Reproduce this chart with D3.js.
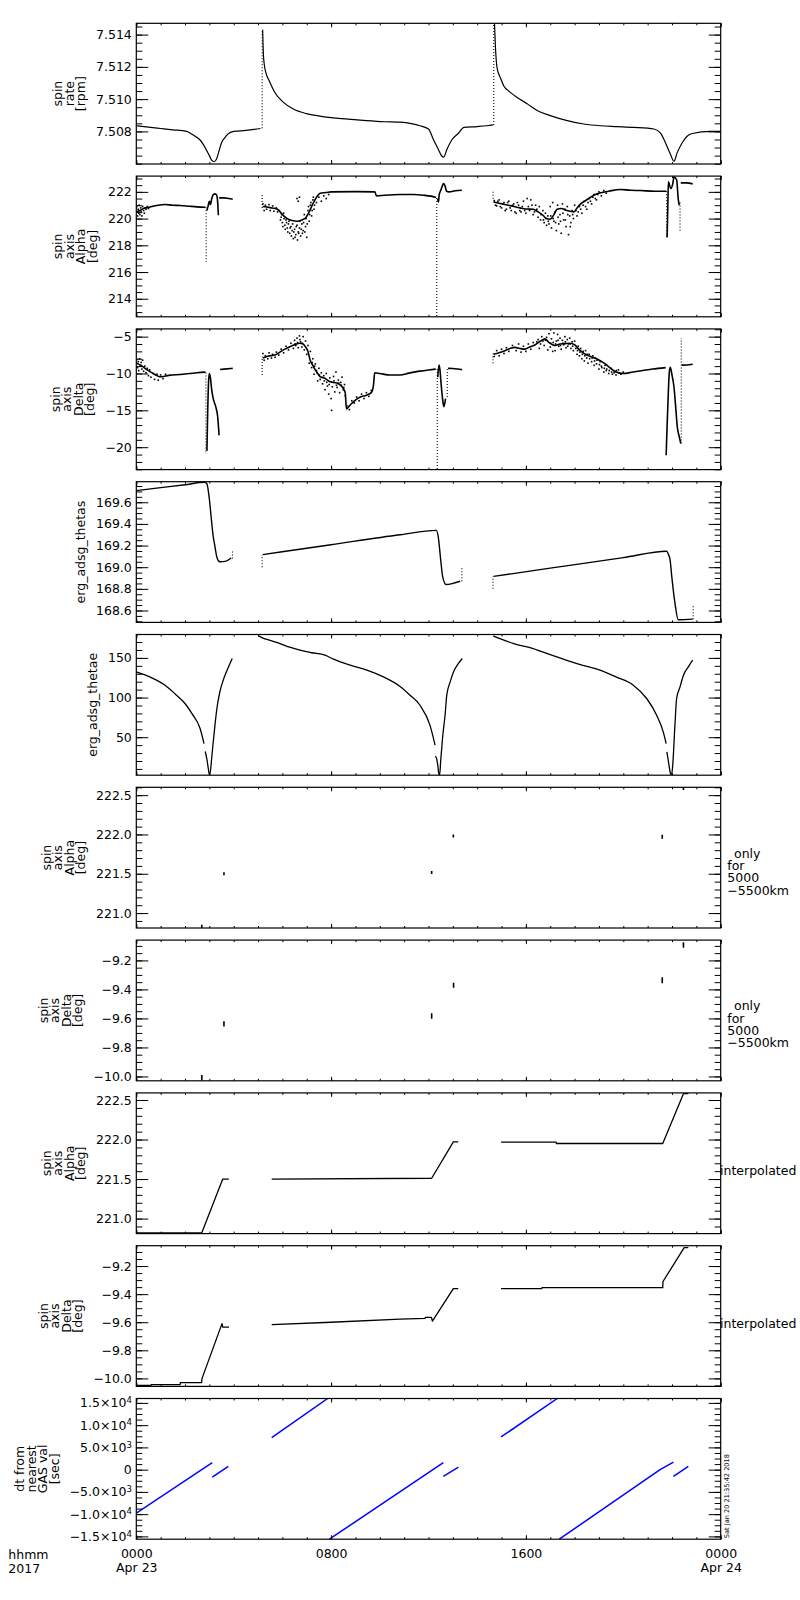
<!DOCTYPE html>
<html><head><meta charset="utf-8">
<script src="https://cdn.jsdelivr.net/npm/d3@7"></script>
<style>body{margin:0;background:#fff}svg{display:block}</style>
</head><body>
<svg id="c" width="800" height="1600"></svg>
<script>
// ---------------- DATA (time in hours from 2017-04-23 00:00) ----------------
const timeDomain = [0, 24];
const timeMajor = [0, 8, 16, 24];
const timeMinor = d3.range(0, 25);
const timeLabels = [["0000","Apr 23"],["0800"],["1600"],["0000","Apr 24"]];

// Panel 1: spin rate [rpm]
const rateDomain = [7.50598, 7.5147];
const rateTicks = [7.508, 7.510, 7.512, 7.514];
const rateSegs = [
 [[0,7.50835],[0.5,7.50826],[1.0,7.50818],[1.5,7.5081],[2.07,7.508],[2.2,7.5079],[2.4,7.50772],[2.6,7.5075],[2.75,7.5072],[2.9,7.50678],[3.0,7.5065],[3.1,7.5062],[3.2,7.50612],[3.3,7.5063],[3.4,7.5068],[3.5,7.5073],[3.63,7.5076],[3.76,7.50783],[4.0,7.508],[4.5,7.50806],[5.1,7.50818]],
 [[5.19,7.5143],[5.22,7.51277],[5.26,7.5121],[5.33,7.5116],[5.47,7.5111],[5.67,7.51046],[6.02,7.50983],[6.43,7.5094],[6.98,7.5091],[7.53,7.50895],[8.1,7.50884],[8.8,7.50875],[9.45,7.50867],[10.2,7.5086],[10.83,7.50857],[11.3,7.50848],[11.65,7.50835],[12.0,7.50815],[12.2,7.5075],[12.4,7.5069],[12.55,7.50646],[12.62,7.5064],[12.76,7.5069],[12.97,7.5075],[13.24,7.5079],[13.45,7.50825],[14.0,7.5083],[14.4,7.50835],[14.66,7.5084]],
 [[14.71,7.5147],[14.75,7.5132],[14.82,7.5119],[14.96,7.5113],[15.1,7.5108],[15.3,7.5105],[15.64,7.5101],[16.05,7.50972],[16.46,7.5093],[17.0,7.50898],[17.7,7.50867],[18.38,7.50846],[19.06,7.50835],[19.75,7.5083],[20.43,7.50825],[21.26,7.50815],[21.53,7.5079],[21.73,7.5073],[21.94,7.50657],[22.08,7.50615],[22.21,7.50667],[22.42,7.5073],[22.62,7.5077],[22.83,7.50787],[23.59,7.508],[24,7.508]]
];
const rateJumps = [[5.17,7.5082,7.5143],[14.68,7.5084,7.5147]];

// Panel 2: spin axis Alpha [deg]
const alphaDomain = [212.65, 223.18];
const alphaTicks = [214, 216, 218, 220, 222];
const alphaSegs = [
 [[0,220.5],[0.15,220.6],[0.3,220.75],[0.56,220.87],[0.9,221.0],[1.18,221.05],[1.5,221.0],[1.8,220.98],[2.2,220.92],[2.5,220.88],[2.84,220.85]],
 [[2.9,220.6],[2.95,220.95],[3.0,221.3],[3.04,221.05],[3.1,221.5],[3.16,221.8],[3.24,221.85],[3.3,221.75],[3.35,221.0],[3.37,220.25]],
 [[3.4,221.55],[3.6,221.55],[3.8,221.5],[3.96,221.45]],
 [[5.19,220.9],[5.5,220.82],[5.8,220.7],[6.0,220.3],[6.2,220.0],[6.4,219.85],[6.6,219.8],[6.8,219.9],[6.95,220.05],[7.1,220.5],[7.25,221.1],[7.4,221.6],[7.55,221.9],[7.8,221.95],[8.0,222.0],[9.0,222.02],[9.8,222.0],[9.86,221.7],[10.2,221.75],[10.83,221.8],[11.4,221.8],[11.8,221.75],[12.1,221.68],[12.31,221.58]],
 [[12.37,221.5],[12.41,221.25],[12.44,221.8],[12.5,222.1],[12.56,222.4],[12.62,222.62],[12.68,222.45],[12.74,222.05],[12.85,222.0],[13.1,222.08],[13.37,222.12]],
 [[14.67,221.25],[14.9,221.15],[15.14,221.05],[15.4,220.95],[15.76,220.8],[16.0,220.72],[16.3,220.7],[16.5,220.5],[16.7,220.25],[16.85,220.0],[17.0,219.95],[17.15,220.3],[17.28,220.7],[17.45,220.75],[17.69,220.6],[17.97,220.5],[18.1,220.8],[18.25,221.1],[18.45,221.35],[18.66,221.6],[18.85,221.8],[19.07,221.93],[19.4,222.05],[19.87,222.18],[20.3,222.12],[20.7,222.1],[21.3,222.05],[21.76,222.05]],
 [[21.8,218.6],[21.83,221.0],[21.85,222.75],[21.95,222.25],[22.03,222.6],[22.08,223.1],[22.19,222.9],[22.26,221.4],[22.3,221.0]],
 [[22.36,222.67],[22.6,222.67],[22.85,222.6]]
];
const alphaJumps = [[2.87,220.85,216.75],[5.17,220.8,221.9],[12.34,221.55,212.6],[14.65,222.0,221.4],[21.78,222.05,218.6],[22.33,221.2,219.1]];
const alphaNoise = [
 [0.02,220.9],[0.05,220.2],[0.08,220.7],[0.1,220.4],[0.12,221.0],[0.15,220.3],[0.18,220.8],[0.2,220.5],[0.23,220.2],[0.26,220.9],[0.3,220.6],[0.33,220.4],[0.36,220.8],[0.4,220.7],[0.45,220.9],[0.5,220.75],
 [5.2,221.1],[5.25,220.6],[5.3,221.0],[5.35,220.7],[5.45,221.05],[5.5,220.6],[5.6,220.95],[5.65,220.55],[5.75,220.8],[5.8,220.5],
 [5.95,220.1],[6.0,219.7],[6.05,220.4],[6.1,219.5],[6.15,219.9],[6.2,219.3],[6.25,219.6],[6.3,218.9],[6.35,219.4],[6.4,219.1],[6.45,218.5],[6.5,219.2],[6.55,218.8],[6.6,219.5],[6.62,218.4],[6.65,219.0],[6.7,219.3],[6.75,218.7],[6.8,219.6],[6.85,219.1],[6.9,220.3],[6.95,219.4],[7.0,218.6],[7.05,220.6],[7.1,219.8],[7.15,221.0],[7.2,220.2],[7.25,221.4],[7.3,220.7],[7.4,221.2],[7.5,221.6],[7.6,221.3],[7.7,221.7],[7.8,221.5],[7.9,221.8],[6.6,221.5],[6.65,221.3],[6.7,221.6],
 [5.92,219.9],[5.97,220.3],[6.02,219.4],[6.07,220.0],[6.12,219.2],[6.17,219.7],[6.22,219.0],[6.27,219.8],[6.32,219.3],[6.37,218.7],[6.42,219.6],[6.47,219.0],[6.52,218.6],[6.57,219.4],[6.67,218.9],[6.72,219.8],[6.77,219.2],[6.82,218.9],[6.87,219.7],[6.92,219.0],[6.97,220.0],[7.02,219.6],[7.07,220.9],[7.12,220.3],[7.17,221.2],[7.22,220.6],[7.27,221.6],[7.32,221.0],
 [14.7,221.35],[14.8,220.95],[14.9,221.4],[15.0,220.8],[15.1,221.2],[15.2,220.7],[15.3,221.3],[15.4,220.6],[15.5,221.1],[15.6,220.4],[15.7,221.0],[15.8,220.5],[15.9,221.3],[16.0,220.4],[16.05,221.5],[16.1,220.9],[16.2,221.4],[16.3,220.3],[16.4,221.0],[16.5,220.1],[16.55,220.9],[16.6,219.9],[16.7,220.6],[16.75,219.7],[16.8,220.4],[16.85,219.5],[16.9,220.2],[16.95,219.6],[17.0,220.9],[17.05,219.3],[17.1,221.2],[17.15,219.8],[17.2,220.5],[17.25,219.1],[17.3,221.0],[17.35,219.6],[17.4,220.3],[17.45,218.9],[17.5,221.1],[17.55,219.9],[17.6,220.7],[17.65,219.4],[17.7,220.9],[17.75,218.8],[17.8,220.2],[17.85,219.7],[17.9,220.6],[17.95,220.0],[18.0,221.0],[18.1,220.2],[18.2,220.9],[18.3,220.4],[18.4,221.3],[18.5,220.7],[18.6,221.5],[18.7,221.1],[18.8,221.8],[18.9,221.4],[19.0,222.0],[19.1,221.7],[19.2,222.1],[19.3,221.9],
 [14.75,221.0],[14.85,221.3],[14.95,220.9],[15.05,221.1],[15.15,220.6],[15.25,221.2],[15.35,220.8],[15.45,221.0],[15.55,220.5],[15.65,221.2],[15.75,220.6],[15.85,220.9],[15.95,220.6],[16.15,220.6],[16.25,221.0],[16.35,220.5],[16.45,220.7],[16.62,220.3],[16.72,219.9],[16.82,220.0],[16.92,219.8],[17.02,220.2],[17.12,220.0],[17.22,219.7],[17.32,220.1],[17.42,219.8],[17.52,220.4],[17.62,219.9],[17.72,220.3],[17.82,219.4],[17.92,220.3],[18.05,220.6],[18.15,220.5],[18.25,220.7],[18.35,221.0],[18.45,220.9],[18.55,221.2],[18.65,221.3],[18.75,221.6],[18.85,221.5],[18.95,221.8]
];

// Panel 3: spin axis Delta [deg]
const deltaDomain = [-23.04, -3.95];
const deltaTicks = [-20, -15, -10, -5];
const deltaSegs = [
 [[0,-8.6],[0.2,-8.9],[0.36,-9.3],[0.56,-9.75],[0.8,-10.2],[0.97,-10.45],[1.2,-10.35],[1.38,-10.22],[1.8,-10.13],[2.2,-10.0],[2.5,-9.9],[2.84,-9.82]],
 [[2.9,-20.5],[2.93,-15.5],[2.97,-11],[3.0,-10.0],[3.04,-10.5],[3.1,-12.3],[3.16,-13.4],[3.27,-14.6],[3.34,-15.8],[3.4,-18.4]],
 [[3.44,-9.45],[3.7,-9.38],[3.96,-9.3]],
 [[5.19,-7.9],[5.4,-7.65],[5.7,-7.5],[5.9,-7.1],[6.1,-6.7],[6.31,-6.36],[6.5,-6.1],[6.72,-5.9],[6.85,-6.0],[6.93,-6.3],[7.05,-7.0],[7.14,-8.2],[7.25,-8.9],[7.35,-9.5],[7.45,-10.0],[7.55,-10.45],[7.76,-10.67],[7.96,-11.13],[8.24,-11.3],[8.45,-11.8],[8.58,-12.6],[8.63,-14.8],[8.8,-14.2],[9.0,-13.6],[9.2,-13.2],[9.45,-12.95],[9.65,-12.6],[9.74,-11.6],[9.79,-9.9],[10.0,-10.0],[10.42,-10.2],[10.83,-10.2],[11.2,-9.95],[11.65,-9.68],[12.0,-9.52],[12.3,-9.4]],
 [[12.38,-10.5],[12.43,-8.86],[12.47,-9.5],[12.52,-11.5],[12.58,-13.5],[12.63,-14.5],[12.7,-13.4]],
 [[12.8,-9.3],[13.0,-9.32],[13.2,-9.4],[13.38,-9.5]],
 [[14.67,-7.4],[14.9,-7.2],[15.14,-6.9],[15.35,-6.6],[15.55,-6.45],[15.75,-6.6],[15.96,-6.7],[16.15,-6.4],[16.37,-6.13],[16.6,-5.6],[16.78,-5.3],[16.95,-5.8],[17.2,-6.2],[17.4,-6.0],[17.6,-5.95],[17.8,-5.9],[18.0,-6.1],[18.2,-6.8],[18.4,-7.3],[18.66,-7.7],[18.9,-8.0],[19.07,-8.3],[19.3,-8.8],[19.48,-9.3],[19.7,-9.8],[20.0,-10.0],[20.4,-9.8],[20.8,-9.6],[21.2,-9.4],[21.74,-9.2]],
 [[21.76,-21.1],[21.8,-17],[21.85,-12.5],[21.89,-9.8],[21.93,-9.15],[22.0,-10.2],[22.08,-11.8],[22.15,-14.5],[22.22,-17.3],[22.3,-18.6],[22.36,-19.5]],
 [[22.4,-8.86],[22.6,-8.85],[22.85,-8.75]]
];
const deltaJumps = [[2.86,-9.85,-20.9],[5.17,-10.2,-7.7],[12.36,-9.4,-23.1],[12.77,-13.2,-9.3],[14.65,-8.6,-7.3],[22.38,-19.5,-5.2]];
const deltaNoise = [
 [0.02,-8.1],[0.05,-9.2],[0.08,-8.4],[0.1,-9.6],[0.13,-8.0],[0.16,-9.0],[0.2,-8.5],[0.23,-9.4],[0.26,-8.2],[0.3,-9.7],[0.35,-9.0],[0.4,-9.9],[0.45,-9.3],[0.5,-10.3],[0.55,-9.5],[0.6,-10.5],[0.7,-10.0],[0.75,-10.8],[0.85,-10.1],[0.9,-10.9],[1.0,-10.2],[1.1,-10.7],[1.2,-10.1],
 [5.2,-7.3],[5.25,-8.2],[5.3,-7.6],[5.4,-8.0],[5.45,-7.2],[5.55,-7.9],[5.6,-7.4],[5.7,-7.8],[5.75,-7.1],[5.85,-7.5],
 [5.95,-6.7],[6.05,-7.2],[6.15,-6.3],[6.25,-6.8],[6.35,-5.9],[6.45,-6.6],[6.5,-5.5],[6.55,-6.2],[6.6,-5.2],[6.65,-6.5],[6.7,-4.9],[6.75,-5.7],[6.8,-6.4],[6.85,-5.0],[6.9,-6.8],[6.95,-5.6],[7.0,-7.4],[7.05,-6.2],[7.1,-8.6],[7.15,-7.0],
 [6.52,-6.0],[6.62,-5.8],[6.72,-5.4],[6.82,-5.9],[7.22,-8.5],[7.32,-9.0],[7.42,-9.9],[7.52,-10.2],[7.62,-10.5],[7.72,-11.0],[7.82,-11.2],[7.92,-11.5],[8.12,-11.0],[8.22,-11.6],[8.32,-11.3],[8.42,-11.6],[8.52,-11.9],
 [7.2,-9.2],[7.25,-8.0],[7.3,-10.1],[7.35,-8.7],[7.4,-9.6],[7.45,-11.0],[7.5,-9.3],[7.55,-10.8],[7.6,-9.9],[7.65,-11.4],[7.7,-10.3],[7.75,-12.2],[7.8,-10.0],[7.85,-11.7],[7.9,-12.8],[7.95,-10.6],[8.0,-13.4],[8.02,-15.0],[8.05,-11.8],[8.1,-10.4],[8.15,-12.5],[8.2,-9.8],[8.25,-11.9],[8.3,-10.9],[8.35,-12.6],[8.4,-11.2],[8.45,-10.5],[8.5,-12.2],[8.55,-11.5],[8.58,-13.0],
 [8.65,-14.4],[8.75,-14.9],[8.85,-13.7],[8.95,-14.0],[9.05,-13.2],[9.15,-13.7],[9.25,-12.8],[9.35,-13.4],[9.45,-12.6],[9.55,-13.1],[9.65,-12.3],
 [14.7,-7.7],[14.8,-6.9],[14.9,-7.6],[15.0,-6.7],[15.1,-7.3],[15.2,-6.5],[15.3,-7.0],[15.45,-6.2],[15.6,-6.9],[15.7,-6.0],[15.8,-7.1],[15.9,-6.3],[16.0,-7.0],[16.1,-6.0],[16.2,-6.7],[16.3,-5.8],
 [16.45,-5.7],[16.55,-6.6],[16.65,-5.0],[16.75,-6.2],[16.85,-5.1],[16.9,-6.8],[16.95,-4.6],[17.0,-6.4],[17.05,-5.3],[17.1,-7.0],[17.15,-4.5],[17.2,-6.9],[17.25,-5.6],[17.3,-4.7],[17.35,-6.3],[17.4,-5.2],[17.45,-6.7],[17.5,-5.5],[17.55,-6.1],[17.6,-5.0],[17.65,-6.5],[17.7,-5.4],[17.75,-6.0],[17.8,-5.2],[17.85,-6.6],[17.9,-5.7],[17.95,-6.9],[18.0,-5.6],[18.1,-7.4],[18.15,-6.3],[18.2,-7.6],[18.25,-6.6],[18.3,-8.0],[18.35,-7.0],[18.4,-8.3],[18.45,-6.9],[18.5,-7.9],[18.55,-8.6],[18.6,-7.4],[18.7,-8.4],[18.75,-7.6],[18.8,-8.9],[18.85,-7.9],[18.9,-8.7],[19.0,-9.4],[19.05,-8.4],[19.1,-9.0],[19.2,-9.8],[19.25,-8.9],[19.3,-9.6],[19.4,-10.0],[19.5,-9.3],[19.55,-10.1],[19.65,-9.7],[19.7,-10.2],[19.8,-9.5],[19.9,-10.1],[20.0,-9.8],
 [16.5,-5.4],[16.6,-6.0],[16.7,-5.6],[16.8,-5.5],[17.02,-5.9],[17.12,-5.8],[17.22,-6.0],[17.32,-5.5],[17.42,-6.2],[17.52,-5.9],[17.62,-5.7],[17.72,-6.3],[17.82,-6.0],[17.92,-6.3],[18.05,-6.6],[18.12,-6.9],[18.22,-7.1],[18.32,-7.4],[18.42,-7.6],[18.52,-7.4],[18.62,-8.0],[18.72,-7.9],[18.82,-8.3],[18.92,-8.2],[19.02,-8.8],[19.12,-9.2],[19.22,-9.3],[19.32,-9.4],[19.42,-9.6],[19.52,-9.8],[19.62,-9.9],[19.72,-9.6],[19.82,-9.9]
];

// Panel 4: erg_adsg_thetas
const thetasDomain = [168.49, 169.79];
const thetasTicks = [168.6, 168.8, 169.0, 169.2, 169.4, 169.6];
const thetasSegs = [
 [[0,169.708],[1.0,169.735],[2.0,169.762],[2.81,169.785],[2.9,169.77],[3.0,169.63],[3.08,169.45],[3.15,169.3],[3.23,169.19],[3.3,169.1],[3.37,169.06],[3.44,169.05],[3.65,169.054],[3.9,169.085]],
 [[5.19,169.116],[8.0,169.208],[10.83,169.3],[12.32,169.34],[12.4,169.28],[12.5,169.07],[12.58,168.915],[12.72,168.84],[13.0,168.85],[13.3,168.87]],
 [[14.67,168.915],[17,168.991],[20,169.088],[21.78,169.147],[21.85,169.12],[21.92,169.07],[21.99,168.915],[22.12,168.67],[22.26,168.514],[22.85,168.52]]
];
const thetasJumps = [[3.95,169.08,169.156],[5.17,169.0,169.116],[13.37,168.87,169.0],[14.65,168.8,168.915],[22.87,168.52,168.64]];

// Panel 5: erg_adsg_thetae
const thetaeDomain = [2.1, 179.5];
const thetaeTicks = [50, 100, 150];
const thetaeSegs = [
 [[0,132.4],[0.56,126],[1.18,115.6],[1.6,104.5],[2.0,92.5],[2.3,79],[2.62,61],[2.78,42]],
 [[2.83,32],[2.9,22],[2.96,10],[3.0,3],[3.02,3],[3.1,25],[3.16,44],[3.23,65],[3.3,84],[3.43,107],[3.57,121.9],[3.7,132.4],[3.82,141],[3.94,149.2]],
 [[5.01,177.7],[5.2,175],[5.5,172],[5.9,168.1],[6.3,163.5],[6.72,159.7],[7.2,156.5],[7.75,153.4],[8.1,148.4],[8.78,140.8],[9.47,134.5],[10.15,126],[10.83,114],[11.24,103],[11.65,90.3],[12.06,65.2],[12.27,40]],
 [[12.28,26],[12.33,23.5],[12.38,15],[12.43,3],[12.46,3],[12.5,20],[12.58,50],[12.68,77.7],[12.75,103],[12.89,119.8],[13.03,132.4],[13.23,143],[13.39,149.2]],
 [[14.66,177.7],[14.8,176],[15.5,168],[16.3,161.8],[17.0,154],[17.68,147],[18.3,141],[19.04,134.5],[19.7,126],[20.41,115.6],[20.96,98.8],[21.37,77.7],[21.64,56.7],[21.76,42]],
 [[21.79,31.5],[21.85,20],[21.9,10],[21.95,3],[21.99,4],[22.03,14.7],[22.12,65.2],[22.19,98.8],[22.33,113.4],[22.47,128.2],[22.67,138.7],[22.85,147.1]]
];

// Panel 6 / 7: only for 5000-5500 km  [time, low, high]
const alphaOnlyDomain = [220.81, 222.6];
const alphaOnlyTicks = [221.0, 221.5, 222.0, 222.5];
const alphaOnlyMarks = [[2.69,220.81,220.85],[3.6,221.49,221.51],[12.13,221.5,221.53],[13.02,221.96,222.0],[21.6,221.944,221.995],[22.47,222.57,222.6]];
const deltaOnlyDomain = [-10.03, -9.06];
const deltaOnlyTicks = [-10.0, -9.8, -9.6, -9.4, -9.2];
const deltaOnlyMarks = [[2.69,-10.03,-9.99],[3.6,-9.656,-9.62],[12.13,-9.603,-9.564],[13.03,-9.389,-9.354],[21.6,-9.358,-9.316],[22.47,-9.113,-9.074]];

// Panel 8: spin axis Alpha interpolated
const alphaIntDomain = [220.81, 222.59];
const alphaIntSegs = [
 [[0,220.82],[2.69,220.82],[3.55,221.5],[3.8,221.5]],
 [[5.56,221.5],[12.13,221.51],[13.02,221.97],[13.22,221.97]],
 [[14.98,221.966],[17.24,221.966],[17.25,221.95],[21.62,221.95],[22.47,222.58],[22.67,222.58]]
];

// Panel 9: spin axis Delta interpolated
const deltaIntDomain = [-10.057, -9.055];
const deltaIntSegs = [
 [[0,-10.05],[0.6,-10.05],[0.61,-10.045],[1.8,-10.045],[1.81,-10.03],[2.68,-10.03],[2.7,-10.0],[3.52,-9.61],[3.55,-9.635],[3.81,-9.635]],
 [[5.56,-9.617],[8.0,-9.6],[10.83,-9.578],[11.86,-9.572],[11.87,-9.566],[12.12,-9.566],[12.16,-9.592],[13.02,-9.36],[13.22,-9.36]],
 [[14.98,-9.36],[16.65,-9.36],[16.66,-9.354],[21.62,-9.354],[21.63,-9.31],[22.5,-9.069],[22.67,-9.069]]
];

// Panel 10: dt from nearest GAS val [sec]
const dtDomain = [-15630, 15990];
const dtTicks = [-15000, -10000, -5000, 0, 5000, 10000, 15000];
const dtSegs = [
 [[0,-9770],[3.12,1576]],
 [[3.12,-1660],[3.78,740]],
 [[5.56,7200],[7.86,15990]],
 [[7.93,-15630],[12.61,1576]],
 [[12.61,-1500],[13.23,590]],
 [[14.98,7340],[17.29,15990]],
 [[17.37,-15630],[21.51,0],[22.06,1700]],
 [[22.06,-1500],[22.67,740]]
];

const onlyText = ["only","for","5000","\u22125500km"];
const stampText = "Sat Jan 20 21:35:42 2018";

// ---------------- DRAWING ----------------
const FONT = '"DejaVu Sans", Verdana, sans-serif';
const svg = d3.select("#c");
const X0 = 136.3, X1 = 720.7, TOP0 = 23.3, PITCH = 152.8, PH = 140.7;
const x = d3.scaleLinear().domain(timeDomain).range([X0, X1]);
const mono = d3.curveMonotoneX;
const spinAxis = n => ["spin","axis",n,"[deg]"];

const panels = [
 {dom: rateDomain, major: rateTicks, step: 0.0005, fmt: d3.format(".3f"), title: ["spin","rate","[rpm]"], segs: rateSegs, jumps: rateJumps, curve: mono},
 {dom: alphaDomain, major: alphaTicks, step: 0.5, fmt: d3.format("d"), title: spinAxis("Alpha"), segs: alphaSegs, jumps: alphaJumps, noise: alphaNoise, curve: mono, sw: 1.6},
 {dom: deltaDomain, major: deltaTicks, step: 1, fmt: d3.format("d"), title: spinAxis("Delta"), segs: deltaSegs, jumps: deltaJumps, noise: deltaNoise, curve: mono, sw: 1.6},
 {dom: thetasDomain, major: thetasTicks, step: 0.05, fmt: d3.format(".1f"), title: ["erg_adsg_thetas"], segs: thetasSegs, jumps: thetasJumps, curve: mono, sw: 1.4},
 {dom: thetaeDomain, major: thetaeTicks, step: 10, fmt: d3.format("d"), title: ["erg_adsg_thetae"], segs: thetaeSegs, curve: mono, sw: 1.3},
 {dom: alphaOnlyDomain, major: alphaOnlyTicks, step: 0.1, fmt: d3.format(".1f"), title: spinAxis("Alpha"), marks: alphaOnlyMarks, side: "only"},
 {dom: deltaOnlyDomain, major: deltaOnlyTicks, step: 0.05, fmt: d3.format(".1f"), title: spinAxis("Delta"), marks: deltaOnlyMarks, side: "only"},
 {dom: alphaIntDomain, major: alphaOnlyTicks, step: 0.1, fmt: d3.format(".1f"), title: spinAxis("Alpha"), segs: alphaIntSegs, side: "interp", sw: 1.3},
 {dom: deltaIntDomain, major: deltaOnlyTicks, step: 0.05, fmt: d3.format(".1f"), title: spinAxis("Delta"), segs: deltaIntSegs, side: "interp", sw: 1.3},
 {dom: dtDomain, major: dtTicks, step: 1250, fmt: null, title: ["dt from","nearest","GAS val","[sec]"], segs: dtSegs, color: "#0000ff", sw: 1.5, sci: true}
];

function minorTicks(dom, step) {
  const n0 = Math.ceil(dom[0] / step - 1e-6), n1 = Math.floor(dom[1] / step + 1e-6);
  return d3.range(n0, n1 + 1).map(k => +(k * step).toFixed(6));
}
function styleAxis(sel) {
  sel.select(".domain").remove();
  sel.selectAll("line").attr("stroke", "#000").attr("stroke-width", 1);
  sel.selectAll("text").attr("font-family", FONT).attr("font-size", 12.5).attr("fill", "#000");
}
const blank = () => "";

panels.forEach((p, i) => {
  const top = TOP0 + i * PITCH, bot = top + PH;
  const y = d3.scaleLinear().domain(p.dom).range([bot, top]);
  const g = svg.append("g");
  svg.append("clipPath").attr("id", "clip" + i).append("rect")
     .attr("x", X0).attr("y", top).attr("width", X1 - X0).attr("height", PH);
  const plot = g.append("g").attr("clip-path", `url(#clip${i})`);

  const line = d3.line().x(d => x(d[0])).y(d => y(d[1])).curve(p.curve || d3.curveLinear);
  (p.segs || []).forEach(s => plot.append("path").attr("d", line(s)).attr("fill", "none")
     .attr("stroke", p.color || "#000").attr("stroke-width", p.sw || 1.2).attr("stroke-linejoin", "round"));
  (p.jumps || []).forEach(j => plot.append("line").attr("x1", x(j[0])).attr("x2", x(j[0]))
     .attr("y1", y(j[1])).attr("y2", y(j[2])).attr("stroke", "#000").attr("stroke-width", 1.1).attr("stroke-dasharray", "1 2"));
  (p.noise || []).forEach(d => plot.append("rect").attr("x", x(d[0]) - 0.8).attr("y", y(d[1]) - 0.8)
     .attr("width", 1.6).attr("height", 1.6).attr("fill", "#000"));
  (p.marks || []).forEach(m => {
    const ya = y(m[1]), yb = y(m[2]), mid = (ya + yb) / 2, len = Math.max(Math.abs(ya - yb), 3);
    plot.append("line").attr("x1", x(m[0])).attr("x2", x(m[0])).attr("y1", mid - len / 2).attr("y2", mid + len / 2)
      .attr("stroke", "#000").attr("stroke-width", 1.6);
  });

  const minor = minorTicks(p.dom, p.step);
  const yl = g.append("g").attr("transform", `translate(${X0},0)`)
    .call(d3.axisLeft(y).tickValues(p.major).tickSizeInner(-12).tickSizeOuter(0).tickPadding(4.5).tickFormat(p.fmt || blank))
    .call(styleAxis);
  if (p.sci) {
    yl.selectAll("text").each(function(d) {
      const t = d3.select(this).text(null);
      if (d === 0) { t.text("0"); return; }
      const e = Math.floor(Math.log10(Math.abs(d))), m = d / Math.pow(10, e);
      t.append("tspan").text((m < 0 ? "\u2212" : "") + Math.abs(m).toFixed(1) + "\u00d710");
      t.append("tspan").attr("dy", "-0.5em").attr("font-size", 8.5).text(e);
    });
  }
  g.append("g").attr("transform", `translate(${X0},0)`)
    .call(d3.axisLeft(y).tickValues(minor).tickSizeInner(-6).tickSizeOuter(0).tickFormat(blank)).call(styleAxis);
  g.append("g").attr("transform", `translate(${X1},0)`)
    .call(d3.axisRight(y).tickValues(p.major).tickSizeInner(-12).tickSizeOuter(0).tickFormat(blank)).call(styleAxis);
  g.append("g").attr("transform", `translate(${X1},0)`)
    .call(d3.axisRight(y).tickValues(minor).tickSizeInner(-6).tickSizeOuter(0).tickFormat(blank)).call(styleAxis);
  g.append("g").attr("transform", `translate(0,${top})`)
    .call(d3.axisTop(x).tickValues(timeMajor).tickSizeInner(-4).tickSizeOuter(0).tickFormat(blank)).call(styleAxis);
  g.append("g").attr("transform", `translate(0,${top})`)
    .call(d3.axisTop(x).tickValues(timeMinor).tickSizeInner(-2).tickSizeOuter(0).tickFormat(blank)).call(styleAxis);
  const xb = g.append("g").attr("transform", `translate(0,${bot})`)
    .call(d3.axisBottom(x).tickValues(timeMajor).tickSizeInner(-4).tickSizeOuter(0).tickFormat(blank)).call(styleAxis);
  g.append("g").attr("transform", `translate(0,${bot})`)
    .call(d3.axisBottom(x).tickValues(timeMinor).tickSizeInner(-2).tickSizeOuter(0).tickFormat(blank)).call(styleAxis);

  g.append("rect").attr("x", X0).attr("y", top).attr("width", X1 - X0).attr("height", PH)
    .attr("fill", "none").attr("stroke", "#000").attr("stroke-width", 1.2);

  // rotated y title
  const tickLeft = X0 + yl.node().getBBox().x;
  const tg = g.append("g");
  const tt = tg.append("text").attr("transform", "rotate(-90)").attr("text-anchor", "middle")
    .attr("font-family", FONT).attr("font-size", 12.5).attr("fill", "#000");
  p.title.forEach((l, k) => tt.append("tspan").attr("x", 0).attr("dy", k === 0 ? 0 : 11.5).text(l));
  const bb = tg.node().getBBox();
  tg.attr("transform", `translate(${tickLeft - 8 - (bb.x + bb.width)},${(top + bot) / 2})`);

  // right-hand notes
  const cy = (top + bot) / 2;
  if (p.side === "only") {
    const st = g.append("text").attr("font-family", FONT).attr("font-size", 12.5).attr("fill", "#000");
    onlyText.forEach((l, k) => st.append("tspan").attr("x", k === 0 ? 734 : 727.3).attr("y", cy + k * 12.3).text(l));
  } else if (p.side === "interp") {
    g.append("text").attr("x", 720).attr("y", cy + 12).attr("font-family", FONT).attr("font-size", 12.5)
      .attr("fill", "#000").text("interpolated");
  }

  // bottom time labels
  if (i === panels.length - 1) {
    xb.selectAll(".tick").each(function(d, k) {
      const t = d3.select(this).append("text").attr("y", 19.3).attr("text-anchor", "middle")
        .attr("font-family", FONT).attr("font-size", 12.5).attr("fill", "#000");
      timeLabels[k].forEach((l, j) => t.append("tspan").attr("x", 0).attr("dy", j === 0 ? 0 : 14).text(l));
    });
    const hl = svg.append("text").attr("font-family", FONT).attr("font-size", 12.5).attr("fill", "#000");
    hl.append("tspan").attr("x", 8.3).attr("y", bot + 19.3).text("hhmm");
    hl.append("tspan").attr("x", 8.3).attr("y", bot + 33.3).text("2017");
    svg.append("text").attr("transform", `translate(728.5,${bot - 1}) rotate(-90)`)
      .attr("font-family", FONT).attr("font-size", 6.6).attr("fill", "#000").text(stampText);
  }
});
</script>
</body></html>
